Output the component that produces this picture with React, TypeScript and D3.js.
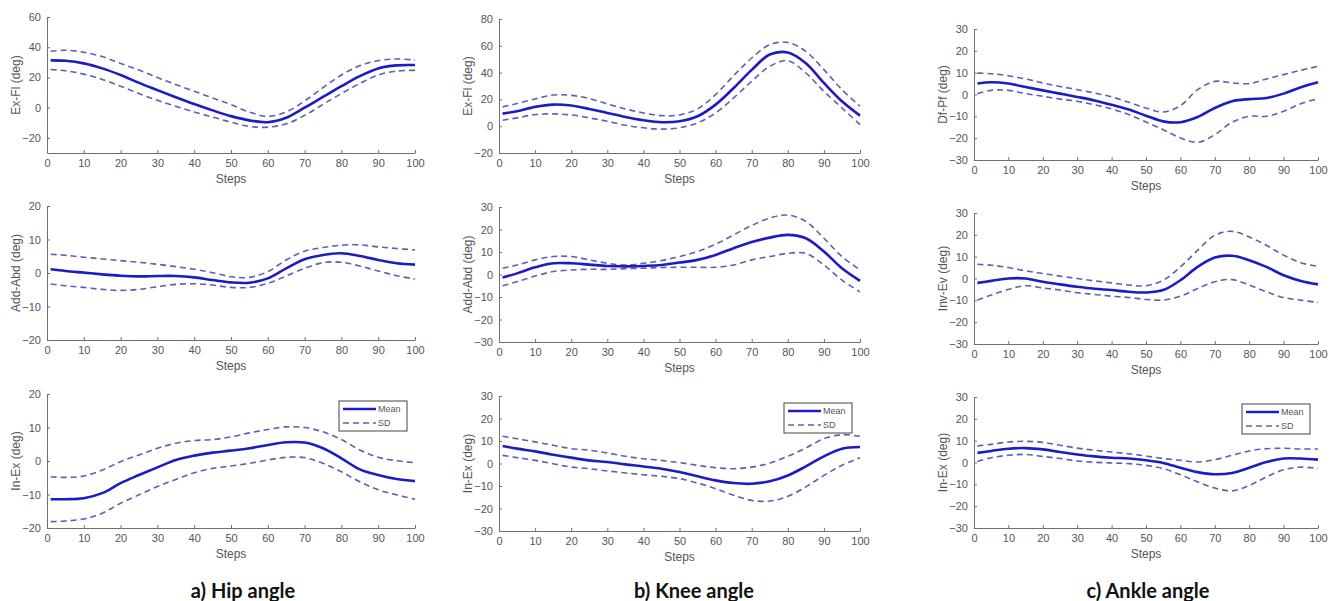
import React, { useEffect, useRef } from 'react';
import * as d3 from 'd3';

// gait cycle steps where values were read
const steps = [1, 5, 10, 15, 20, 25, 30, 35, 40, 45, 50, 55, 60, 65, 70, 75, 80, 85, 90, 95, 100];
const xTicks = [0, 10, 20, 30, 40, 50, 60, 70, 80, 90, 100];

// Hip
const hipExFlMean = [31.3, 31, 29.3, 26, 21.6, 16.4, 11.6, 6.9, 2.4, -1.8, -5.6, -8.4, -9.6, -6.7, 0, 7.1, 14.2, 20.9, 26, 28, 28.2];
const hipExFlUp = [37.3, 38, 36.7, 33.8, 29.3, 24.9, 20, 15.3, 10.9, 6.4, 2, -2.9, -5.8, -2.9, 4.4, 13.3, 21.6, 27.8, 31.1, 32.2, 31.6];
const hipExFlLo = [25.3, 24.4, 22.2, 18.7, 14.2, 9.3, 4.9, 0.9, -2.9, -6.2, -9.6, -12.4, -12.9, -10.7, -5.1, 2.2, 9.3, 16, 21.6, 24.2, 24.7];

const hipAddMean = [1.1, 0.6, 0.1, -0.4, -0.8, -1, -0.9, -0.9, -1.3, -2.1, -2.8, -2.9, -1.6, 1.4, 4.1, 5.4, 5.9, 5.1, 3.9, 2.9, 2.5];
const hipAddUp = [5.6, 5.3, 4.7, 4.2, 3.7, 3.2, 2.6, 1.9, 1.1, 0.1, -1.1, -1.3, 0.4, 3.9, 6.5, 7.6, 8.3, 8.4, 7.8, 7.3, 6.9];
const hipAddLo = [-3.3, -3.8, -4.3, -4.9, -5.2, -4.9, -4.1, -3.4, -3.2, -3.6, -4.3, -4.3, -3.1, -0.9, 1.4, 3.1, 3.2, 2.1, 0.6, -0.8, -1.8];

const hipInExMean = [-11.4, -11.4, -11.1, -9.6, -6.6, -4.2, -1.9, 0.3, 1.6, 2.5, 3.1, 3.8, 4.8, 5.6, 5.5, 3.8, 0.8, -2.5, -4.2, -5.4, -6];
const hipInExUp = [-4.7, -4.9, -4.5, -2.7, -0.2, 1.8, 3.8, 5.3, 6.1, 6.4, 7.2, 8.4, 9.4, 10.2, 10, 8.7, 6.4, 3.3, 1.1, 0.1, -0.5];
const hipInExLo = [-18.1, -17.9, -17.3, -15.6, -12.6, -10.1, -7.6, -5.5, -3.5, -2.2, -1.5, -0.7, 0.3, 1.1, 1, -0.7, -3.2, -6.2, -8.6, -10.1, -11.4];

// Knee
const kneeExFlMean = [9.4, 11.2, 14.4, 16.1, 15.4, 12.9, 9.9, 6.9, 4.5, 3, 3.7, 7.4, 16.1, 28.5, 42, 53.5, 55, 47, 32.3, 18.6, 7.9];
const kneeExFlUp = [14.4, 16.9, 20.3, 23.3, 23, 20.6, 16.6, 12.9, 9.9, 7.9, 8.4, 12.9, 23.6, 37.7, 50.9, 60.8, 62.5, 55.8, 42.2, 27.3, 14.9];
const kneeExFlLo = [4.5, 6.2, 8.7, 9.2, 8.4, 6.2, 3.7, 0.7, -1.2, -2.2, -1.2, 2.5, 9.9, 21.1, 33.5, 44.7, 48.9, 39.7, 26, 13.6, 1.2];

const kneeAddMean = [-1.3, 0.5, 3.2, 5, 5, 4.4, 3.8, 3.6, 3.8, 4.2, 5.3, 6.5, 8.7, 11.7, 14.4, 16.4, 17.6, 16.1, 10.2, 2.8, -2.8];
const kneeAddUp = [2.8, 4.2, 6.5, 8, 8, 6.5, 5, 4.2, 5, 6.2, 8, 10.2, 13.5, 17.6, 21.8, 25.1, 26.4, 23.6, 16.1, 8, 2];
const kneeAddLo = [-5, -3.2, -0.7, 1.3, 2, 2.3, 2.3, 2.6, 2.8, 3.1, 3.2, 3.2, 3.2, 4.2, 6.5, 8, 9.4, 9.4, 4.2, -2.5, -7.7];

const kneeInExMean = [7.8, 6.6, 5.4, 3.9, 2.6, 1.4, 0.7, -0.4, -1.3, -2.3, -3.8, -5.7, -7.5, -8.7, -9, -7.9, -5.3, -1.3, 3.2, 6.6, 7.3];
const kneeInExUp = [12.1, 11, 9.6, 8.1, 6.6, 5.9, 4.7, 3.2, 2.1, 1.4, 0.4, -0.8, -1.9, -2.3, -1.6, 0.2, 3.2, 6.9, 11, 12.8, 12.1];
const kneeInExLo = [3.6, 2.6, 1.4, -0.1, -1.6, -2.3, -3.3, -4.2, -5, -5.7, -6.7, -8.7, -11.2, -14.1, -16.4, -16.7, -14.6, -10.4, -5.3, -0.8, 2.6];

// Ankle
const ankleDfMean = [5, 5.6, 5, 3.4, 1.9, 0.4, -1.1, -2.7, -4.7, -6.9, -9.7, -12.3, -12.7, -10.3, -6.2, -3.1, -2.1, -1.6, 0.4, 3.3, 5.6];
const ankleDfUp = [9.8, 9.5, 8.6, 7.1, 5.3, 3.7, 2.2, 0.7, -1.1, -3.6, -6.2, -8, -5.1, 2.2, 6, 5.3, 5, 7.1, 9.1, 11.1, 12.9];
const ankleDfLo = [0.4, 1.9, 1.9, 0.4, -0.8, -2.1, -3.1, -4.7, -6.6, -9.2, -12.6, -16.1, -19.9, -21.9, -18.4, -12.7, -10, -10, -7.7, -4.2, -1.9];

const ankleInvMean = [-2, -1.1, 0, 0, -1.5, -2.7, -3.8, -4.7, -5.3, -6.1, -6.4, -5.3, -0.8, 5.3, 9.6, 10.4, 8.4, 5.3, 1.5, -1.1, -2.7];
const ankleInvUp = [6.5, 6.1, 5, 3.5, 2.3, 1.1, 0, -1.1, -2, -3, -3.3, -0.8, 5.3, 12.9, 19.8, 21.6, 19, 15.2, 10.7, 7.2, 5.6];
const ankleInvLo = [-9.9, -7.6, -5, -3.3, -4.3, -5.3, -6.5, -7.3, -8.1, -8.7, -9.6, -9.9, -8.1, -4.6, -1.5, -0.5, -3, -6.1, -8.7, -9.9, -11];

const ankleInExMean = [4.4, 5.3, 6.3, 6.6, 6, 4.8, 3.7, 2.8, 2.2, 1.8, 1, -0.2, -2.4, -4.4, -5.4, -4.8, -2.4, 0.2, 1.8, 1.8, 1.3];
const ankleInExUp = [7.6, 8.3, 9.4, 9.7, 9.2, 7.9, 6.6, 5.6, 4.8, 4, 3, 1.8, 1, 0.2, 1.3, 3.3, 5.3, 6.3, 6.5, 6.2, 6.2];
const ankleInExLo = [0.5, 2.2, 3.3, 3.7, 2.8, 1.8, 0.7, 0.1, -0.2, -0.5, -1.3, -2.8, -5.6, -8.9, -11.7, -13, -10.5, -6.6, -3.3, -2.1, -2.8];

const titles = ['a) Hip angle', 'b) Knee angle', 'c) Ankle angle'];
const legendLabels = ['Mean', 'SD'];

const MEAN_COLOR = '#1c1cc4';
const SD_COLOR = '#625cb2';
const AXIS_COLOR = '#707070';
const TEXT_COLOR = '#555';
const FONT = '"Liberation Sans", Arimo, Arial, sans-serif';

// panel boxes in page pixels
const colX = [[47, 415], [499, 860], [974, 1318]];
const titleX = [243, 694, 1148];

const panels = [
  { col: 0, top: 17, bottom: 153, domain: [-30, 60], ticks: [-20, 0, 20, 40, 60], label: 'Ex-Fl (deg)', mean: hipExFlMean, up: hipExFlUp, lo: hipExFlLo },
  { col: 1, top: 19, bottom: 153, domain: [-20, 80], ticks: [-20, 0, 20, 40, 60, 80], label: 'Ex-Fl (deg)', mean: kneeExFlMean, up: kneeExFlUp, lo: kneeExFlLo },
  { col: 2, top: 29, bottom: 160, domain: [-30, 30], ticks: [-30, -20, -10, 0, 10, 20, 30], label: 'Df-Pf (deg)', mean: ankleDfMean, up: ankleDfUp, lo: ankleDfLo },
  { col: 0, top: 206, bottom: 340, domain: [-20, 20], ticks: [-20, -10, 0, 10, 20], label: 'Add-Abd (deg)', mean: hipAddMean, up: hipAddUp, lo: hipAddLo },
  { col: 1, top: 207, bottom: 342, domain: [-30, 30], ticks: [-30, -20, -10, 0, 10, 20, 30], label: 'Add-Abd (deg)', mean: kneeAddMean, up: kneeAddUp, lo: kneeAddLo },
  { col: 2, top: 213, bottom: 344, domain: [-30, 30], ticks: [-30, -20, -10, 0, 10, 20, 30], label: 'Inv-Ev (deg)', mean: ankleInvMean, up: ankleInvUp, lo: ankleInvLo },
  { col: 0, top: 394, bottom: 528, domain: [-20, 20], ticks: [-20, -10, 0, 10, 20], label: 'In-Ex (deg)', mean: hipInExMean, up: hipInExUp, lo: hipInExLo, legend: true },
  { col: 1, top: 396, bottom: 531, domain: [-30, 30], ticks: [-30, -20, -10, 0, 10, 20, 30], label: 'In-Ex (deg)', mean: kneeInExMean, up: kneeInExUp, lo: kneeInExLo, legend: true },
  { col: 2, top: 397, bottom: 528, domain: [-30, 30], ticks: [-30, -20, -10, 0, 10, 20, 30], label: 'In-Ex (deg)', mean: ankleInExMean, up: ankleInExUp, lo: ankleInExLo, legend: true },
];

export default function App() {
  const ref = useRef<SVGSVGElement>(null);

  useEffect(() => {
    const svg = d3.select(ref.current);
    svg.selectAll('*').remove();

    panels.forEach((p) => {
      const [x0, x1] = colX[p.col];
      const x = d3.scaleLinear().domain([0, 100]).range([x0, x1]);
      const y = d3.scaleLinear().domain(p.domain).range([p.bottom, p.top]);
      const g = svg.append('g');

      // bottom axis, ticks pointing inward (matlab style)
      const xa = g.append('g')
        .attr('transform', `translate(0,${p.bottom})`)
        .call(d3.axisBottom(x).tickValues(xTicks).tickSizeInner(-3).tickSizeOuter(0).tickPadding(6));
      xa.selectAll('text').attr('dy', '0.71em');

      const ya = g.append('g')
        .attr('transform', `translate(${x0},0)`)
        .call(d3.axisLeft(y).tickValues(p.ticks).tickSizeInner(-3).tickSizeOuter(0).tickPadding(6));

      [xa, ya].forEach((a) => {
        a.attr('font-family', null).attr('font-size', null);
        a.select('.domain').attr('stroke', AXIS_COLOR);
        a.selectAll('line').attr('stroke', AXIS_COLOR);
        a.selectAll('text').attr('fill', TEXT_COLOR).style('font-family', FONT).style('font-size', '11px');
      });

      g.append('text')
        .attr('x', (x0 + x1) / 2)
        .attr('y', p.bottom + 30)
        .attr('text-anchor', 'middle')
        .attr('fill', TEXT_COLOR)
        .style('font-family', FONT)
        .style('font-size', '12px')
        .text('Steps');

      g.append('text')
        .attr('transform', `translate(${x0 - 27},${(p.top + p.bottom) / 2}) rotate(-90)`)
        .attr('text-anchor', 'middle')
        .attr('fill', TEXT_COLOR)
        .style('font-family', FONT)
        .style('font-size', '12px')
        .text(p.label);

      const line = (vals: number[]) =>
        d3.line<number>()
          .x((_, i) => x(steps[i]))
          .y((d) => y(d))
          .curve(d3.curveCatmullRom)(vals);

      [p.up, p.lo].forEach((vals) => {
        g.append('path')
          .attr('d', line(vals))
          .attr('fill', 'none')
          .attr('stroke', SD_COLOR)
          .attr('stroke-width', 1.6)
          .attr('stroke-dasharray', '6,4');
      });

      g.append('path')
        .attr('d', line(p.mean))
        .attr('fill', 'none')
        .attr('stroke', MEAN_COLOR)
        .attr('stroke-width', 2.6);

      if (p.legend) {
        const lw = 68, lh = 30;
        const lx = x1 - lw - 8, ly = p.top + 7;
        const lg = g.append('g').attr('transform', `translate(${lx},${ly})`);
        lg.append('rect')
          .attr('width', lw).attr('height', lh)
          .attr('fill', 'white').attr('stroke', '#444').attr('stroke-width', 1);
        legendLabels.forEach((lab, i) => {
          const yy = 8 + i * 14;
          lg.append('line')
            .attr('x1', 4).attr('x2', 37).attr('y1', yy).attr('y2', yy)
            .attr('stroke', i === 0 ? MEAN_COLOR : SD_COLOR)
            .attr('stroke-width', i === 0 ? 2.5 : 1.5)
            .attr('stroke-dasharray', i === 0 ? null : '6,4');
          lg.append('text')
            .attr('x', 39).attr('y', yy).attr('dy', '0.35em')
            .attr('fill', TEXT_COLOR)
            .style('font-family', FONT)
            .style('font-size', '9px')
            .text(lab);
        });
      }
    });

    // column titles
    titles.forEach((t, i) => {
      svg.append('text')
        .attr('x', titleX[i])
        .attr('y', 598)
        .attr('text-anchor', 'middle')
        .attr('fill', '#111')
        .style('font-family', 'Lato, "Open Sans", sans-serif')
        .style('font-weight', 'bold')
        .style('font-size', '20px')
        .text(t);
    });
  }, []);

  return (
    <svg ref={ref} width={1331} height={601}
      style={{ position: 'absolute', left: 0, top: 0, background: 'white' }} />
  );
}
